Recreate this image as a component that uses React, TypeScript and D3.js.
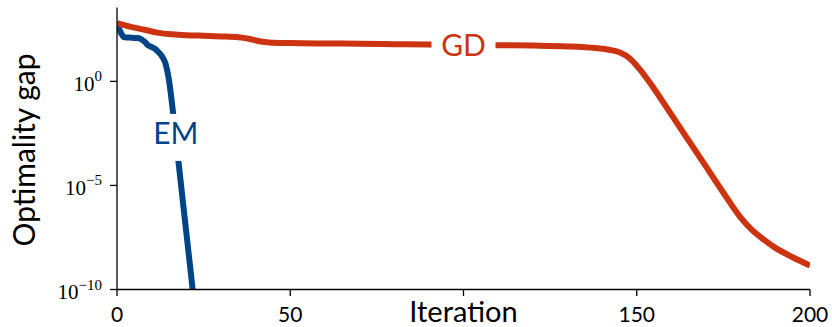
import React from "react";
import * as d3 from "d3";

// ---- data ----
const gdIterations = [0, 4, 8, 12, 16, 20, 25, 30, 35, 38, 41, 44, 50, 60, 70, 80, 90, 100, 110, 120, 130, 138, 142, 145, 148, 151, 155, 160, 165, 170, 175, 180, 183, 186, 190, 195, 200];
const gdLog10Gap = [2.8, 2.62, 2.48, 2.33, 2.26, 2.22, 2.19, 2.16, 2.12, 2.05, 1.93, 1.87, 1.84, 1.82, 1.81, 1.79, 1.77, 1.76, 1.74, 1.72, 1.68, 1.6, 1.52, 1.4, 1.1, 0.55, -0.35, -1.6, -2.85, -4.1, -5.35, -6.55, -7.1, -7.52, -8.0, -8.45, -8.85];

const emIterations = [0, 1, 2, 3, 4, 5, 6, 7, 8, 9, 10, 11, 12, 13, 14, 15, 16, 17, 18, 19, 20, 21, 22];
const emLog10Gap = [2.78, 2.38, 2.13, 2.11, 2.1, 2.09, 2.08, 2.02, 1.9, 1.73, 1.65, 1.56, 1.4, 1.2, 0.85, 0.07, -1.25, -2.75, -4.25, -5.75, -7.25, -8.75, -10.25];

const xTicks = [0, 50, 100, 150, 200];
const xTickLabels = ["0", "50", "", "150", "200"];
const yTickExponents = [0, -5, -10];

const seriesNames = ["EM", "GD"];
const seriesColors = ["#004488", "#cc3311"];
const labelAt = [
  { iter: 17, log: -2.5 },
  { iter: 100, log: 1.76 },
];

const W = 832;
const H = 327;
const SANS = "Lato, 'DejaVu Sans', sans-serif";
const SERIF = "'Liberation Serif', 'DejaVu Serif', serif";

export default function App() {
  const x = d3.scaleLinear().domain([0, 200]).range([117, 810]);
  const y = d3.scaleLog().domain([1e-10, Math.pow(10, 3.55)]).range([289.5, 7.5]);

  const line = d3
    .line<[number, number]>()
    .x((d) => x(d[0]))
    .y((d) => y(Math.pow(10, d[1])))
    .curve(d3.curveMonotoneX);

  const emData: [number, number][] = emIterations.map((it, i) => [it, emLog10Gap[i]]);
  const gdData: [number, number][] = gdIterations.map((it, i) => [it, gdLog10Gap[i]]);
  const series = [emData, gdData];

  const [x0, x1] = x.range();
  const [yb, yt] = y.range();

  return (
    <svg
      width={W}
      height={H}
      style={{ position: "absolute", left: 0, top: 0, background: "#fff" }}
    >
      <defs>
        <clipPath id="plotClip">
          <rect x={x0} y={yt} width={x1 - x0} height={yb - yt} />
        </clipPath>
      </defs>
      <rect x={0} y={0} width={W} height={H} fill="#fff" />

      <g clipPath="url(#plotClip)">
        {series.map((d, i) => (
          <path
            key={seriesNames[i]}
            d={line(d) || ""}
            fill="none"
            stroke={seriesColors[i]}
            strokeWidth={6}
            strokeLinejoin="round"
          />
        ))}
      </g>

      {/* inline series labels */}
      {seriesNames.map((name, i) => {
        const cx = x(labelAt[i].iter);
        const cy = y(Math.pow(10, labelAt[i].log));
        return (
          <g key={name}>
            <rect x={cx - 32} y={cy - 19.5} width={64} height={47} fill="#fff" />
            <text
              x={cx}
              y={cy + 11}
              textAnchor="middle"
              fontFamily={SANS}
              fontSize={30}
              fill={seriesColors[i]}
            >
              {name}
            </text>
          </g>
        );
      })}

      {/* spines */}
      <line x1={x0} x2={x0} y1={yt} y2={yb} stroke="#000" strokeWidth={1.3} />
      <line x1={x0} x2={x1} y1={yb} y2={yb} stroke="#000" strokeWidth={1.3} />

      {/* x ticks */}
      {xTicks.map((t, i) => (
        <g key={t}>
          <line x1={x(t)} x2={x(t)} y1={yb} y2={yb + 6.5} stroke="#000" strokeWidth={1.3} />
          {xTickLabels[i] && (
            <text x={x(t)} y={321.5} textAnchor="middle" fontFamily={SANS} fontSize={21} fill="#000">
              {xTickLabels[i]}
            </text>
          )}
        </g>
      ))}

      {/* y ticks */}
      {yTickExponents.map((e) => {
        const ty = y(Math.pow(10, e));
        const sup = e < 0 ? "\u2212" + Math.abs(e) : String(e);
        return (
          <g key={e}>
            <line x1={x0 - 7} x2={x0} y1={ty} y2={ty} stroke="#000" strokeWidth={1.3} />
            <text x={102} y={ty + 9.5} textAnchor="end" fontFamily={SERIF} fontSize={21} fill="#000">
              10
              <tspan dy={-9.5} fontSize={15}>
                {sup}
              </tspan>
            </text>
          </g>
        );
      })}

      {/* axis labels */}
      <text x={x(100)} y={322} textAnchor="middle" fontFamily={SANS} fontSize={29} fill="#000">
        Iteration
      </text>
      <text
        transform="translate(35,150) rotate(-90)"
        textAnchor="middle"
        fontFamily={SANS}
        fontSize={30}
        fill="#000"
      >
        Optimality gap
      </text>
    </svg>
  );
}
